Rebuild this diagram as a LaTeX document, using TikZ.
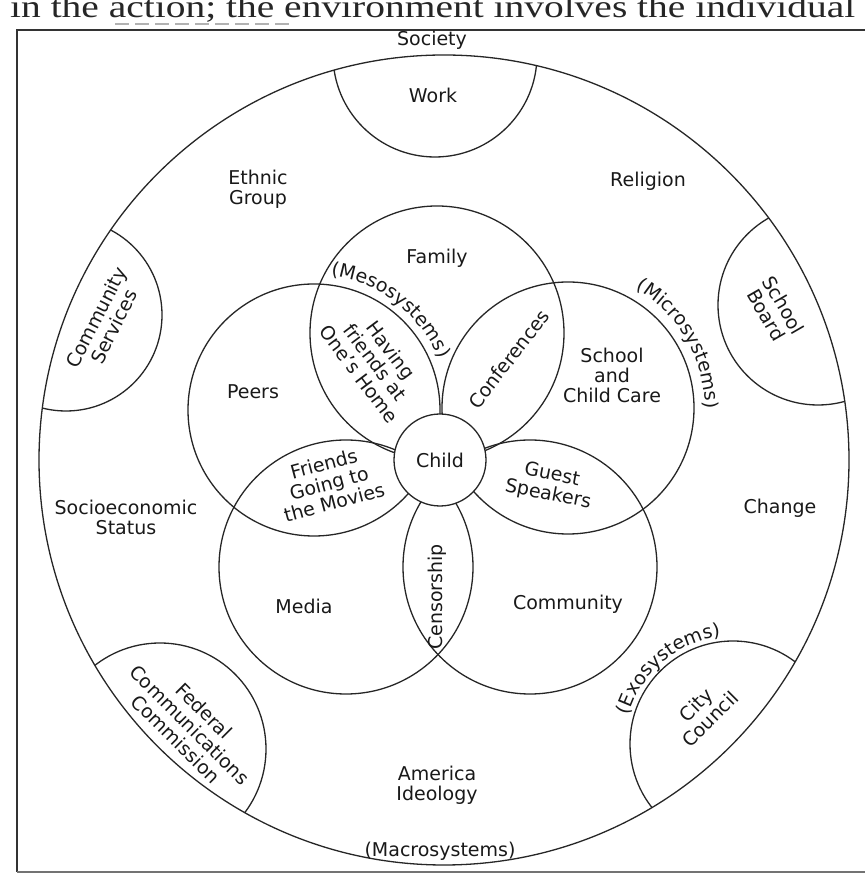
\documentclass[tikz,border=0pt]{standalone}
\usepackage{fontspec}
\setmainfont{DejaVu Sans}
\newfontfamily\bookfont{Liberation Serif}
\usetikzlibrary{decorations.text}
\begin{document}
\begin{tikzpicture}[x=1pt,y=1pt,
  ring/.style={line width=1.3pt, draw=black!85},
  lbl/.style={font=\fontsize{19}{20}\selectfont, align=center, inner sep=0pt, text=black!90},
  arctext/.style={decorate, decoration={text along path, text align=center, text color=black!90, text={#1}}},
  frameline/.style={line width=1.5pt, draw=black!80}
]
\fontsize{19}{20}\selectfont
\useasboundingbox (0,0) rectangle (865,881);
\clip (0,0) rectangle (865,881);
\fill[white] (0,0) rectangle (865,881);

% fragment of book text above the figure
\node[anchor=base west, inner sep=0pt, font=\bookfont, text=black!85] (booktext) at (10,863)
  {\resizebox{845pt}{22pt}{in the action; the environment involves the individual}};
\coordinate (ulA) at (115,857);
\coordinate (ulB) at (290,857);
\draw[gray!60, dash pattern=on 14pt off 6pt, line width=1.2pt] (ulA) -- (ulB);

% frame
\coordinate (fTL) at (17,851);
\coordinate (fTR) at (865,851);
\coordinate (fBL) at (17,9);
\coordinate (fBR) at (865,9);
\draw[frameline] (fBL) -- (fTL) -- (fTR);
\draw[line width=2pt, black!55] (fBL) -- (fBR);

% centres
\coordinate (O) at (444,421);
\coordinate (cFam) at (437,548);
\coordinate (cPeer) at (314,471);
\coordinate (cSch) at (568,473);
\coordinate (cMed) at (346,314);
\coordinate (cCom) at (530,314);
\coordinate (cWork) at (435,826);
\coordinate (cCS) at (66,566);
\coordinate (cSB) at (818,576);
\coordinate (cCC) at (733,137);
\coordinate (cFCC) at (160,132);

% exosystem bubbles, cut by the macrosystem circle
\begin{scope}
  \clip (O) circle[radius=405];
  \draw[ring] (cWork) circle[radius=102];
  \draw[ring] (cCS) circle[radius=96];
  \draw[ring] (cSB) circle[radius=100];
  \draw[ring] (cCC) circle[radius=103];
  \draw[ring] (cFCC) circle[radius=106];
\end{scope}
\draw[ring] (O) circle[radius=405];

% microsystem circles
\draw[ring] (cFam) circle[radius=127];
\draw[ring] (cPeer) circle[radius=126];
\draw[ring] (cSch) circle[radius=126];
\draw[ring] (cMed) circle[radius=127];
\draw[ring] (cCom) circle[radius=127];

% child
\node[circle, ring, fill=white, minimum size=92pt, lbl] (child) at (440,421) {Child};

% labels
\node[lbl] (society) at (432,841) {Society};
\node[lbl] (work) at (433,786) {Work};
\node[lbl] (ethnic) at (258,692) {Ethnic\\Group};
\node[lbl] (religion) at (648,700) {Religion};
\node[lbl] (family) at (437,623) {Family};
\node[lbl] (peers) at (253,489) {Peers};
\node[lbl] (school) at (612,506) {School\\and\\Child Care};
\node[lbl] (socio) at (126,364) {Socioeconomic\\Status};
\node[lbl] (change) at (780,373) {Change};
\node[lbl] (media) at (304,275) {Media};
\node[lbl] (community) at (568,277) {Community};
\node[lbl] (america) at (437,96) {America\\Ideology};
\node[lbl] (macro) at (440,30) {(Macrosystems)};
\node[lbl, rotate=90] (censor) at (437,284) {Censorship};
\node[lbl, rotate=15] (movies) at (329,398) {Friends\\Going to\\the Movies};
\node[lbl, rotate=-11] (guest) at (550,396) {Guest\\Speakers};
\node[lbl, rotate=-53] (having) at (375,519) {Having\\friends at\\One's Home};
\node[lbl, rotate=52] (conf) at (509,522) {Conferences};
\node[lbl, rotate=63] (commserv) at (105,559) {Community\\Services};
\node[lbl, rotate=-60] (schoolboard) at (775,571) {School\\Board};
\node[lbl, rotate=45] (city) at (703,169) {City\\Council};
\node[lbl, rotate=-45] (fcc) at (190,156) {Federal\\Communications\\Commission};

% labels along arcs
\path[arctext={(Mesosystems)}] (cPeer) ++(85:135) arc[start angle=85, end angle=20, radius=135];
\path[arctext={(Microsystems)}] (cSch) ++(62:137) arc[start angle=62, end angle=-2, radius=137];
\path[arctext={(Exosystems)}] (cCC) ++(164:108) arc[start angle=164, end angle=97, radius=108];
\end{tikzpicture}
\end{document}
